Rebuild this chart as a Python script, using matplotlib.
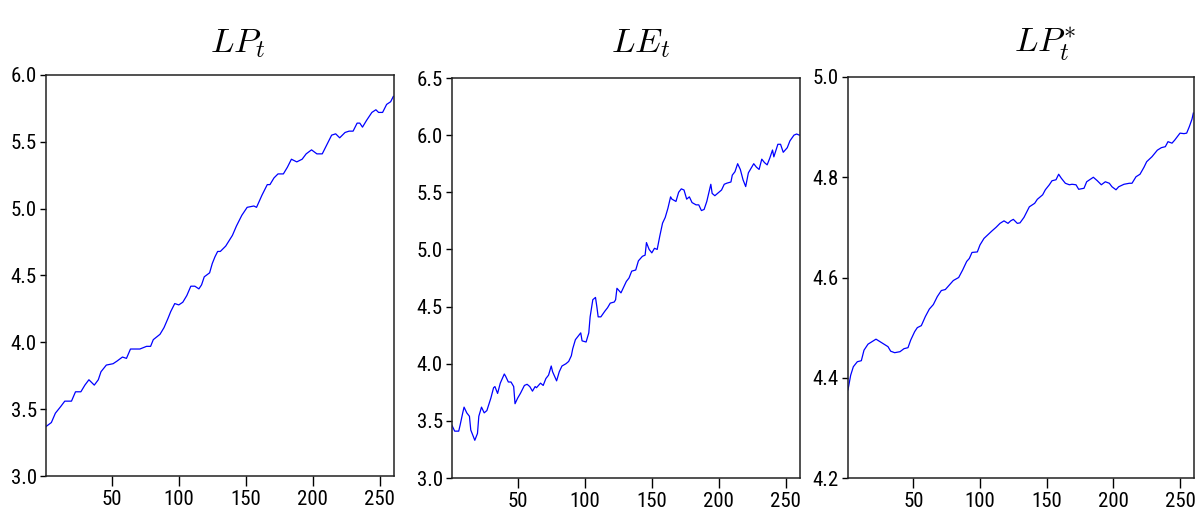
import numpy as np
import matplotlib
matplotlib.use("Agg")
import matplotlib.pyplot as plt

plt.rcParams['font.family'] = ['Roboto Condensed', 'DejaVu Sans']
plt.rcParams['font.stretch'] = 'condensed'
plt.rcParams['mathtext.fontset'] = 'cm'

# LP_t
lp_t = [1, 5, 8, 12, 15, 20, 23, 27, 30, 33, 37, 40, 42, 46, 51, 54, 58, 61, 64, 68,
        71, 76, 79, 81, 86, 89, 92, 94, 97, 100, 103, 106, 109, 112, 115, 117, 119, 123, 125, 127,
        129, 131, 135, 140, 143, 147, 151, 156, 158, 162, 166, 168, 171, 174, 178, 181, 184, 188, 192, 195,
        199, 203, 207, 210, 214, 217, 220, 224, 227, 230, 233, 235, 237, 240, 244, 247, 249, 252, 255, 258,
        260]
lp = [3.37, 3.40, 3.47, 3.52, 3.56, 3.56, 3.63, 3.63, 3.68, 3.72, 3.68, 3.72, 3.78, 3.83, 3.84, 3.86, 3.89, 3.88, 3.95, 3.95,
      3.95, 3.97, 3.97, 4.02, 4.06, 4.11, 4.18, 4.23, 4.29, 4.28, 4.30, 4.35, 4.42, 4.42, 4.40, 4.43, 4.49, 4.52, 4.59, 4.64,
      4.68, 4.68, 4.72, 4.80, 4.87, 4.95, 5.01, 5.02, 5.01, 5.10, 5.18, 5.18, 5.23, 5.26, 5.26, 5.31, 5.37, 5.35, 5.37, 5.41,
      5.44, 5.41, 5.41, 5.47, 5.55, 5.56, 5.53, 5.57, 5.58, 5.58, 5.64, 5.64, 5.61, 5.66, 5.72, 5.74, 5.72, 5.72, 5.78, 5.80,
      5.84]

# LE_t
le_t = [1, 3, 6, 7, 9, 10, 12, 14, 15, 18, 20, 21, 23, 25, 27, 30, 32, 33, 35, 37,
        40, 41, 43, 45, 47, 48, 50, 52, 55, 57, 59, 61, 63, 64, 67, 69, 71, 73, 75, 76,
        79, 81, 83, 86, 88, 90, 91, 93, 95, 97, 98, 101, 103, 104, 106, 108, 109, 110, 112, 115,
        117, 119, 122, 123, 124, 127, 129, 131, 133, 135, 138, 140, 143, 145, 146, 148, 150, 152, 154, 156,
        158, 160, 162, 164, 165, 168, 170, 172, 174, 176, 178, 180, 183, 185, 187, 189, 191, 194, 195, 197,
        200, 202, 204, 206, 209, 210, 212, 214, 216, 218, 220, 222, 224, 226, 228, 230, 232, 234, 236, 238,
        240, 241, 244, 246, 248, 251, 253, 256, 258, 260]
le = [3.46, 3.41, 3.41, 3.46, 3.57, 3.62, 3.57, 3.54, 3.42, 3.33, 3.39, 3.54, 3.62, 3.57, 3.59, 3.70, 3.79, 3.80, 3.74, 3.83,
      3.91, 3.89, 3.84, 3.84, 3.80, 3.65, 3.70, 3.74, 3.81, 3.82, 3.80, 3.76, 3.80, 3.79, 3.83, 3.81, 3.87, 3.90, 3.98, 3.93,
      3.85, 3.93, 3.98, 4.00, 4.02, 4.07, 4.13, 4.21, 4.24, 4.27, 4.20, 4.19, 4.27, 4.41, 4.56, 4.58, 4.50, 4.41, 4.41, 4.46,
      4.49, 4.53, 4.54, 4.56, 4.66, 4.62, 4.67, 4.72, 4.75, 4.81, 4.82, 4.90, 4.94, 4.95, 5.06, 5.00, 4.97, 5.01, 5.00, 5.12,
      5.23, 5.28, 5.36, 5.46, 5.44, 5.42, 5.50, 5.53, 5.52, 5.44, 5.46, 5.41, 5.39, 5.39, 5.34, 5.35, 5.42, 5.57, 5.49, 5.47,
      5.50, 5.52, 5.57, 5.58, 5.59, 5.65, 5.68, 5.75, 5.70, 5.61, 5.55, 5.67, 5.71, 5.75, 5.72, 5.70, 5.79, 5.76, 5.74, 5.80,
      5.87, 5.81, 5.92, 5.92, 5.85, 5.89, 5.95, 6.00, 6.01, 6.00]

# LP*_t
lps_t = [1, 3, 5, 8, 11, 13, 16, 19, 22, 25, 28, 31, 33, 36, 40, 43, 46, 48, 51, 53,
         56, 59, 62, 65, 68, 71, 74, 77, 80, 84, 87, 90, 92, 94, 98, 100, 103, 105, 109, 112,
         115, 118, 121, 123, 125, 128, 130, 133, 137, 141, 143, 147, 149, 152, 154, 157, 159, 161, 164, 167,
         169, 172, 174, 178, 180, 185, 188, 191, 194, 197, 199, 202, 204, 208, 212, 214, 217, 220, 223, 225,
         229, 233, 236, 239, 241, 244, 246, 250, 253, 255, 257, 259, 260]
lps = [4.376, 4.405, 4.422, 4.432, 4.434, 4.455, 4.467, 4.472, 4.477, 4.472, 4.467, 4.462, 4.453, 4.450, 4.452, 4.458, 4.460, 4.475, 4.492, 4.500,
       4.504, 4.522, 4.537, 4.546, 4.562, 4.574, 4.576, 4.585, 4.594, 4.600, 4.615, 4.632, 4.638, 4.650, 4.651, 4.665, 4.678, 4.683, 4.693, 4.700,
       4.708, 4.713, 4.708, 4.713, 4.716, 4.708, 4.709, 4.720, 4.741, 4.748, 4.756, 4.765, 4.775, 4.785, 4.793, 4.795, 4.806, 4.798, 4.788, 4.785,
       4.786, 4.785, 4.776, 4.778, 4.791, 4.800, 4.793, 4.785, 4.791, 4.788, 4.781, 4.775, 4.781, 4.786, 4.788, 4.788, 4.801, 4.806, 4.820, 4.831,
       4.841, 4.854, 4.859, 4.861, 4.871, 4.868, 4.874, 4.888, 4.887, 4.888, 4.901, 4.916, 4.928]

panels = [
    (lp_t, lp, r'$LP_t$', (3.0, 6.0), np.arange(3.0, 6.01, 0.5)),
    (le_t, le, r'$LE_t$', (3.0, 6.5), np.arange(3.0, 6.51, 0.5)),
    (lps_t, lps, r'$LP_t^{*}$', (4.2, 5.0), np.arange(4.2, 5.01, 0.2)),
]
rects = [
    [46 / 1196, 44 / 520, 348 / 1196, 401 / 520],
    [452 / 1196, 42 / 520, 348 / 1196, 400 / 520],
    [848 / 1196, 42 / 520, 346 / 1196, 401 / 520],
]
title_x = [238, 641, 1045]

fig = plt.figure(figsize=(11.96, 5.2), dpi=100)

for (t, v, title, ylim, yticks), rect, tx in zip(panels, rects, title_x):
    ax = fig.add_axes(rect)
    ax.plot(t, v, color='#0000ff', lw=0.9)
    ax.set_xlim(1, 260.5)
    ax.set_ylim(*ylim)
    ax.set_xticks([50, 100, 150, 200, 250])
    ax.set_yticks(yticks)
    ax.set_yticklabels(['%.1f' % y for y in yticks])
    ax.tick_params(axis='x', length=7, width=1, direction='out', labelsize=15, pad=3)
    ax.tick_params(axis='y', length=4.5, width=1, direction='out', labelsize=15, pad=2)
    for s in ax.spines.values():
        s.set_linewidth(1.1)
        s.set_color('#222222')
    fig.text(tx / 1196, 1 - 52 / 520, title, ha='center', va='baseline', fontsize=25)

fig.savefig('out.png', dpi=100)
